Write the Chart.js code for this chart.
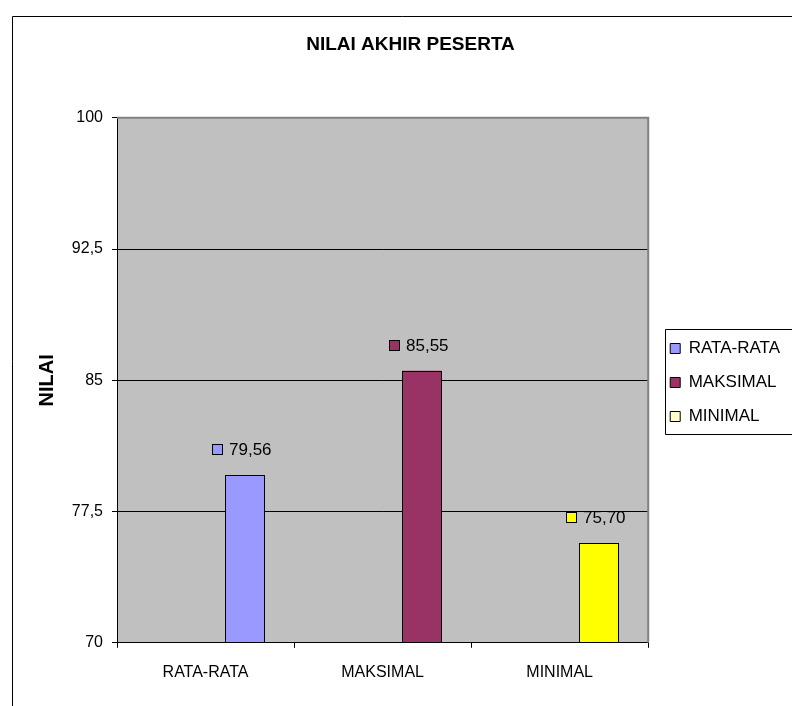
<!DOCTYPE html>
<html>
<head>
<meta charset="utf-8">
<script src="https://cdn.jsdelivr.net/npm/chart.js@4"></script>
<style>
  body { margin: 0; background: #fff; }
  canvas { display: block; }
</style>
</head>
<body>
<canvas id="nilaiChart" width="792" height="706"></canvas>
<script>
const categories = ["RATA-RATA", "MAKSIMAL", "MINIMAL"];
const seriesNames = ["RATA-RATA", "MAKSIMAL", "MINIMAL"];
const rataRata = [79.56, null, null];
const maksimal = [null, 85.55, null];
const minimal = [null, null, 75.70];
const yTicks = [70, 77.5, 85, 92.5, 100];

const Y_MIN = 70;
const Y_MAX = 100;
const barColors = ["#9999FF", "#993366", "#FFFF00"];
const legendColors = ["#9999FF", "#993366", "#FFFFCC"];
const FONT = "'Liberation Sans', Arial, sans-serif";

function koma(v, digits) {
    return (digits == null ? String(v) : v.toFixed(digits)).replace(".", ",");
}

// empty stacks so each bar sits in the third slot of its group, like the Excel chart
const spacer = id => ({ label: "", data: [], stack: id, backgroundColor: "transparent" });

const series = [rataRata, maksimal, minimal].map((data, i) => ({
    label: seriesNames[i],
    data: data,
    stack: "nilai",
    base: Y_MIN,
    backgroundColor: barColors[i],
    borderColor: "#000000",
    borderWidth: 0
}));

const chartDecor = {
    id: "chartDecor",
    afterLayout(chart) {
        // Excel leaves a small gap between plot and legend, title sits a bit right
        const lg = chart.legend;
        lg.left += 5;
        lg.right += 5;
        lg.top += 26;
        lg.bottom += 26;
        chart.titleBlock.left += 12;
        chart.titleBlock.right += 12;
    },
    beforeDraw(chart) {
        const { ctx, chartArea: a } = chart;
        ctx.save();
        ctx.fillStyle = "#C0C0C0";
        ctx.fillRect(a.left, a.top, a.right - a.left, a.bottom - a.top);
        ctx.restore();
    },
    afterDatasetsDraw(chart) {
        const { ctx } = chart;
        ctx.save();
        ctx.font = "17px " + FONT;
        ctx.textBaseline = "middle";
        ctx.textAlign = "left";
        series.forEach((s, k) => {
            const meta = chart.getDatasetMeta(k + 2);
            meta.data.forEach((bar, j) => {
                const v = s.data[j];
                if (v == null) return;
                // crisp black outline on whole pixels
                const { x, y, width, base } = bar.getProps(["x", "y", "width", "base"], true);
                const l = Math.round(x - width / 2), r = Math.round(x + width / 2);
                const t = Math.round(y), b = Math.round(base);
                ctx.strokeStyle = "#000";
                ctx.lineWidth = 1;
                ctx.strokeRect(l + 0.5, t + 0.5, r - l - 1, b - t);

                const txt = koma(v, 2);
                const w = ctx.measureText(txt).width;
                const total = 11 + 6 + w;
                const x0 = Math.round(x - 3 - total / 2);
                const ty = Math.round(y - 26);
                ctx.fillStyle = barColors[k];
                ctx.fillRect(x0, ty - 5, 10, 10);
                ctx.strokeRect(x0 + 0.5, ty - 4.5, 10, 10);
                ctx.fillStyle = "#000";
                ctx.fillText(txt, x0 + 17, ty + 1);
            });
        });
        ctx.restore();
    },
    afterDraw(chart) {
        const { ctx, chartArea: a } = chart;
        ctx.save();
        // plot area border, top and right
        ctx.strokeStyle = "#808080";
        ctx.lineWidth = 2;
        ctx.beginPath();
        ctx.moveTo(a.left, a.top);
        ctx.lineTo(a.right, a.top);
        ctx.lineTo(a.right, a.bottom);
        ctx.stroke();
        // outer chart border
        ctx.strokeStyle = "#000";
        ctx.lineWidth = 1;
        ctx.beginPath();
        ctx.moveTo(12.5, chart.height);
        ctx.lineTo(12.5, 16.5);
        ctx.lineTo(chart.width, 16.5);
        ctx.stroke();
        // legend box
        const hb = chart.legend.legendHitBoxes;
        if (hb && hb.length) {
            const top = Math.round(hb[0].top - 11) + 0.5;
            const last = hb[hb.length - 1];
            const bottom = Math.round(last.top + last.height + 9) + 0.5;
            const left = Math.round(hb[0].left - 5) + 0.5;
            ctx.beginPath();
            ctx.moveTo(chart.width, top);
            ctx.lineTo(left, top);
            ctx.lineTo(left, bottom);
            ctx.lineTo(chart.width, bottom);
            ctx.stroke();
        }
        ctx.restore();
    }
};

new Chart(document.getElementById("nilaiChart"), {
    type: "bar",
    data: {
        labels: categories,
        datasets: [spacer("s1"), spacer("s2")].concat(series)
    },
    options: {
        responsive: false,
        animation: false,
        devicePixelRatio: 1,
        categoryPercentage: 3 / 4.5,
        barPercentage: 1,
        layout: { padding: { top: 16, left: 12, right: 7, bottom: 9 } },
        plugins: {
            title: {
                display: true,
                text: "NILAI AKHIR PESERTA",
                color: "#000",
                font: { family: FONT, size: 19, weight: "bold" },
                padding: { top: 17, bottom: 62 }
            },
            legend: {
                position: "right",
                labels: {
                    color: "#000",
                    font: { family: FONT, size: 17 },
                    boxWidth: 10,
                    boxHeight: 10,
                    padding: 17,
                    filter: item => item.datasetIndex >= 2,
                    generateLabels(chart) {
                        const items = Chart.defaults.plugins.legend.labels.generateLabels(chart);
                        items.forEach(it => {
                            if (it.datasetIndex >= 2) {
                                it.fillStyle = legendColors[it.datasetIndex - 2];
                                it.strokeStyle = "#000";
                                it.lineWidth = 1;
                            }
                        });
                        return items;
                    }
                },
                onClick: null
            },
            tooltip: { enabled: false }
        },
        scales: {
            x: {
                stacked: true,
                grid: {
                    drawOnChartArea: false,
                    color: "#000",
                    tickLength: 5
                },
                border: { color: "#000", width: 1 },
                ticks: {
                    color: "#000",
                    font: { family: FONT, size: 16 },
                    padding: 15
                }
            },
            y: {
                stacked: false,
                min: Y_MIN,
                max: Y_MAX,
                afterBuildTicks(scale) {
                    scale.ticks = yTicks.map(v => ({ value: v }));
                },
                afterFit(scale) {
                    scale.width = 105;
                },
                title: {
                    display: true,
                    text: "NILAI",
                    color: "#000",
                    font: { family: FONT, size: 20, weight: "bold" },
                    padding: { top: 23, bottom: 0 }
                },
                grid: {
                    color: ctx => (ctx.tick && ctx.tick.value === Y_MAX ? "transparent" : "#000"),
                    tickColor: "#000",
                    tickLength: 5
                },
                border: { color: "#000", width: 1 },
                ticks: {
                    color: "#000",
                    font: { family: FONT, size: 16 },
                    padding: 9,
                    callback: v => koma(v)
                }
            }
        }
    },
    plugins: [chartDecor]
});
</script>
</body>
</html>
